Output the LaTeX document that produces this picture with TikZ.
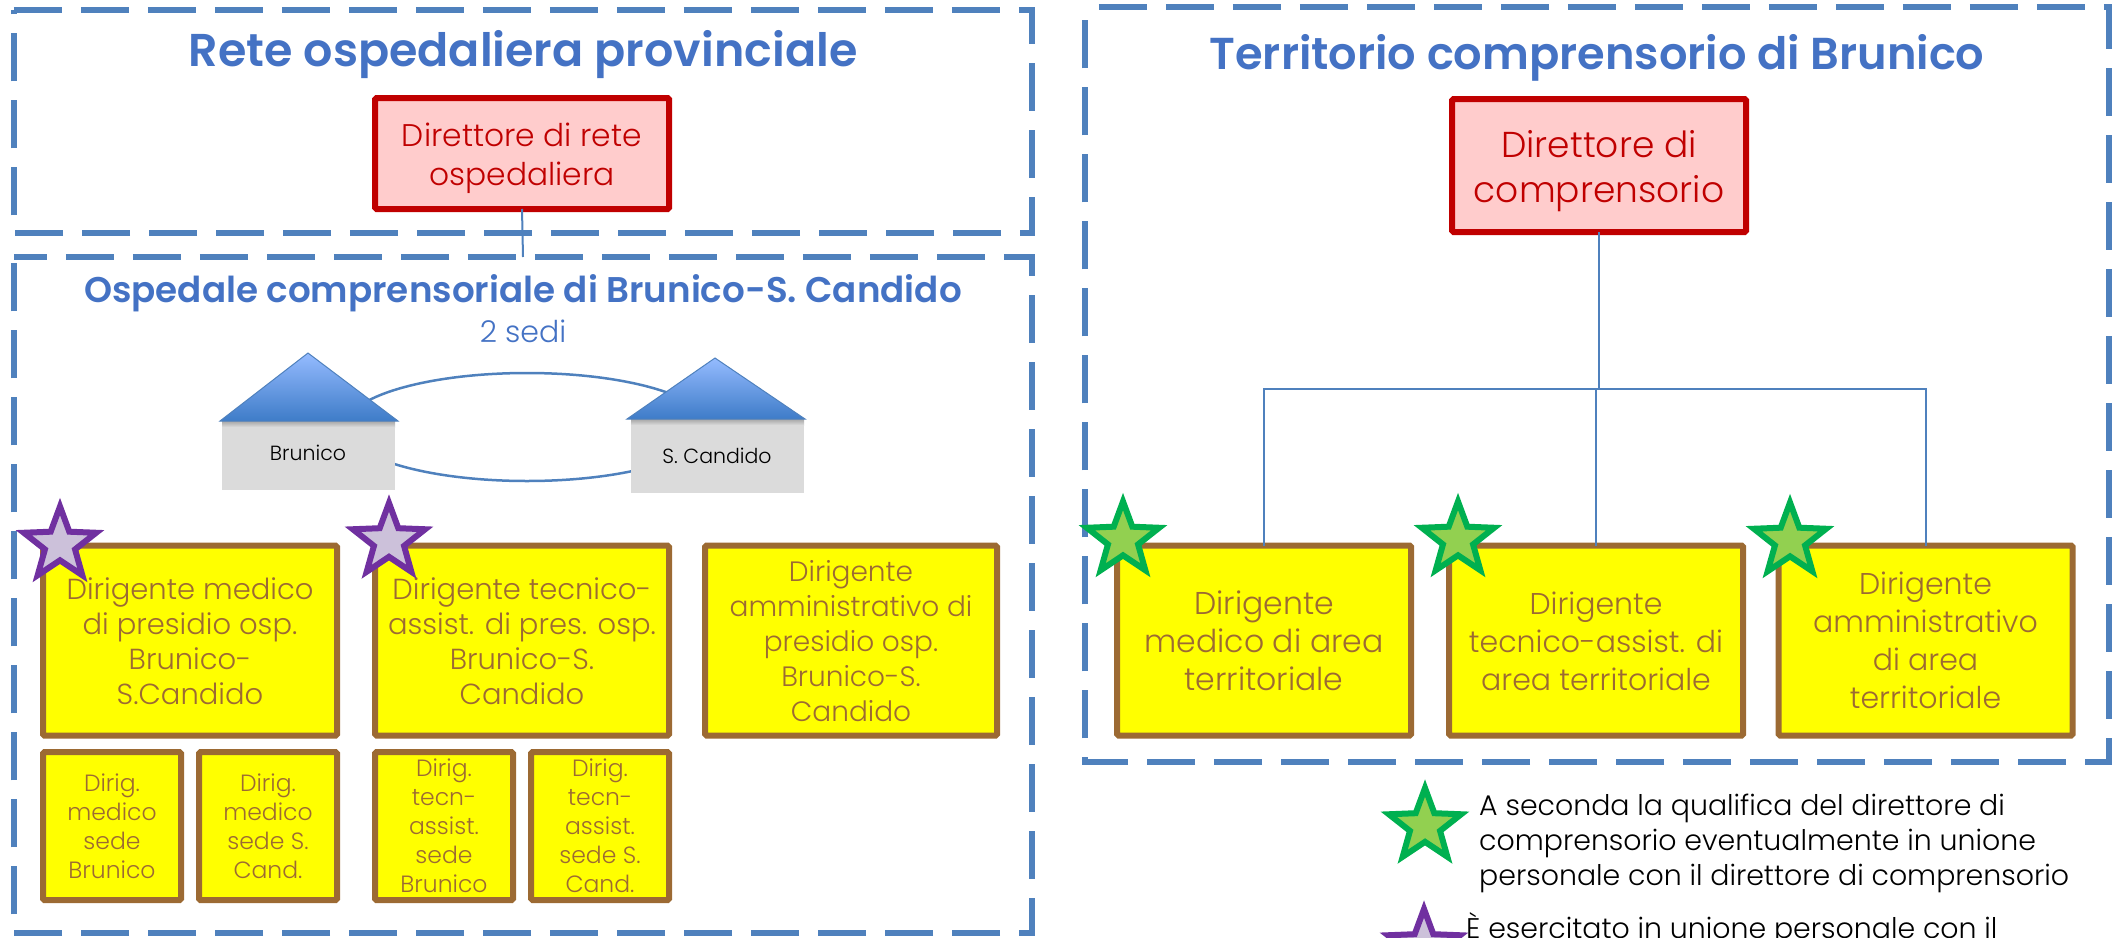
\documentclass[tikz,border=0pt]{standalone}
\usepackage{fontspec}
\setmainfont{Poppins}[UprightFont=* Light,BoldFont=* SemiBold]
\usetikzlibrary{shapes.geometric}
\definecolor{frameblue}{HTML}{4F81BD}
\definecolor{titleblue}{HTML}{4472C4}
\definecolor{brownline}{HTML}{9C6A33}
\definecolor{redline}{HTML}{C00000}
\definecolor{pinkfill}{HTML}{FFCCCC}
\definecolor{purpleline}{HTML}{7030A0}
\definecolor{purplefill}{HTML}{CCC1DA}
\definecolor{greenline}{HTML}{00B050}
\definecolor{greenfill}{HTML}{92D050}
\definecolor{boxyellow}{RGB}{255,255,0}
\definecolor{wallgrey}{HTML}{DBDBDB}
\definecolor{roofhi}{HTML}{95BBFF}
\definecolor{roofdark}{HTML}{3E7CC8}
\newcommand{\fsz}[2]{\fontsize{#1}{#2}\selectfont}
\newcommand{\low}[2]{\raisebox{-#1pt}[\height][\depth]{\begin{tabular}{@{}c@{}}#2\end{tabular}}}
\tikzset{
  x=1pt,y=-1pt,
  dashframe/.style={draw=frameblue,line width=6pt,dash pattern=on 48pt off 19pt},
  ybox/.style={draw=brownline,fill=boxyellow,line width=6pt,rounded corners=1.5pt,inner sep=0pt,outer sep=0pt,text=brownline,align=center},
  rbox/.style={draw=redline,fill=pinkfill,line width=6pt,rounded corners=1.5pt,inner sep=0pt,outer sep=0pt,text=redline,align=center},
  bigbox/.style={ybox,minimum width=294pt,minimum height=190pt,font=\fsz{29}{35}},
  terrbox/.style={ybox,minimum width=294pt,minimum height=190pt,font=\fsz{30}{38}},
  smallbox/.style={ybox,minimum width=138pt,minimum height=148pt,font=\fsz{23.5}{29}},
  title/.style={text=titleblue,inner sep=0pt,align=center},
  pstar/.style={star,star points=5,star point ratio=2.4,minimum size=76pt,inner sep=0pt,draw=purpleline,fill=purplefill,line width=6pt,miter limit=10},
  gstar/.style={star,star points=5,star point ratio=2.4,minimum size=76pt,inner sep=0pt,draw=greenline,fill=greenfill,line width=6pt,miter limit=10},
  conn/.style={draw=frameblue,line width=2pt},
  wall/.style={fill=wallgrey,draw=none,minimum width=#1,inner sep=0pt,outer sep=0pt},
  walltxt/.style={font=\fsz{20.5}{24},text=black,inner sep=0pt},
  roof/.style={draw=frameblue,line width=1pt,top color=roofhi,bottom color=roofdark},
  legend/.style={inner sep=0pt,anchor=west,align=left,font=\fsz{28.4}{35},text=black}
}
\begin{document}
\begin{tikzpicture}
\useasboundingbox (0,0) rectangle (2116,937);
\clip (0,0) rectangle (2116,937);
% frames
\node[minimum width=1018pt,minimum height=223pt,inner sep=0pt] (f1) at (523,121.5) {};
\node[minimum width=1018pt,minimum height=676pt,inner sep=0pt] (f2) at (523,595) {};
\node[minimum width=1024pt,minimum height=755pt,inner sep=0pt] (f3) at (1597,384.5) {};
\draw[dashframe] (f1.north west) -- (f1.north east) -- (f1.south east) -- (f1.south west) -- cycle;
\draw[dashframe,dash phase=15pt] (f2.north west) -- (f2.north east) -- (f2.south east) -- (f2.south west) -- cycle;
\draw[dashframe,dash phase=53pt] (f3.north west) -- (f3.north east) -- (f3.south east) -- (f3.south west) -- cycle;
% titles
\node[title,font=\fsz{46}{50}\bfseries] (t1) at (523,55) {Rete ospedaliera provinciale};
\node[title,font=\fsz{44.7}{50}\bfseries] (t3) at (1597,58) {Territorio comprensorio di Brunico};
\node[title,font=\fsz{35.7}{40}\bfseries] (t2) at (523,293) {Ospedale comprensoriale di Brunico-S. Candido};
\node[title,font=\fsz{30}{36}] (t2b) at (523,331) {2 sedi};
% director boxes
\node[rbox,minimum width=294pt,minimum height=111pt,font=\fsz{31.3}{39}] (dr) at (522,153.5) {\low{4.5}{Direttore di rete\\ospedaliera}};
\node[rbox,minimum width=294pt,minimum height=133pt,font=\fsz{36}{45}] (dc) at (1599,165.5) {\low{5.5}{Direttore di\\comprensorio}};
\coordinate (f2top) at (523,257);
\draw[conn] (dr.south) -- (f2top);
% sites
\node[minimum width=364pt,minimum height=108pt,inner sep=0pt] (ring) at (527,427) {};
\draw[frameblue,line width=2.5pt] (ring.center) ellipse [x radius=182,y radius=54];
\node[wall=173pt,minimum height=69pt] (wb) at (308.5,455.5) {};
\node[wall=173pt,minimum height=74pt] (wc) at (717.5,456) {};
\node[walltxt] (lb) at (308,453) {Brunico};
\node[walltxt] (lc) at (717,456) {S. Candido};
\shade[top color=black!35,bottom color=wallgrey] (wb.north west) rectangle ([yshift=-6pt]wb.north east);
\shade[top color=black!35,bottom color=wallgrey] (wc.north west) rectangle ([yshift=-6pt]wc.north east);
\path[roof] (220,421) -- (308,353) -- (398,421) -- cycle;
\path[roof] (627,419) -- (715,358) -- (805,419) -- cycle;
% left boxes
\node[bigbox] (a1) at (190,640.5) {\low{4}{Dirigente medico\\di presidio osp.\\Brunico-\\S.Candido}};
\node[bigbox] (a2) at (522,640.5) {\low{4}{Dirigente tecnico-\\assist. di pres. osp.\\Brunico-S.\\Candido}};
\node[bigbox,minimum width=292pt,font=\fsz{28}{35}] (a3) at (851,640.5) {\low{3.5}{Dirigente\\amministrativo di\\presidio osp.\\Brunico-S.\\Candido}};
\node[smallbox] (s1) at (112,826) {Dirig.\\medico\\sede\\Brunico};
\node[smallbox] (s2) at (268,826) {Dirig.\\medico\\sede S.\\Cand.};
\node[smallbox] (s3) at (444,826) {Dirig.\\tecn-\\assist.\\sede\\Brunico};
\node[smallbox] (s4) at (600,826) {Dirig.\\tecn-\\assist.\\sede S.\\Cand.};
% right org
\node[terrbox,font=\fsz{31.5}{38}] (b1) at (1264,640.5) {\low{4}{Dirigente\\medico di area\\territoriale}};
\node[terrbox] (b2) at (1596,640.5) {\low{4}{Dirigente\\tecnico-assist. di\\area territoriale}};
\node[terrbox] (b3) at (1925.5,640.5) {\low{3.5}{Dirigente\\amministrativo\\di area\\territoriale}};
\coordinate (bus) at (dc.south |- 0,389);
\draw[conn] (dc.south) -- (bus);
\draw[conn] (b1.north) -- (b1.north |- bus) -- (b3.north |- bus) -- (b3.north);
\draw[conn] (b2.north) -- (b2.north |- bus);
% stars
\node[pstar] (ps1) at (60,544.5) {};
\node[pstar] (ps2) at (389,541) {};
\node[gstar] (gs1) at (1123,539.5) {};
\node[gstar] (gs2) at (1458,539.5) {};
\node[gstar] (gs3) at (1790,540.5) {};
% legend
\node[gstar] (lg) at (1425,826) {};
\node[pstar] (lp) at (1424,947) {};
\node[legend] (lgt) at (1479,843) {A seconda la qualifica del direttore di\\comprensorio eventualmente in unione\\personale con il direttore di comprensorio};
\node[legend] (lpt) at (1466,929) {È esercitato in unione personale con il};
\end{tikzpicture}
\end{document}
